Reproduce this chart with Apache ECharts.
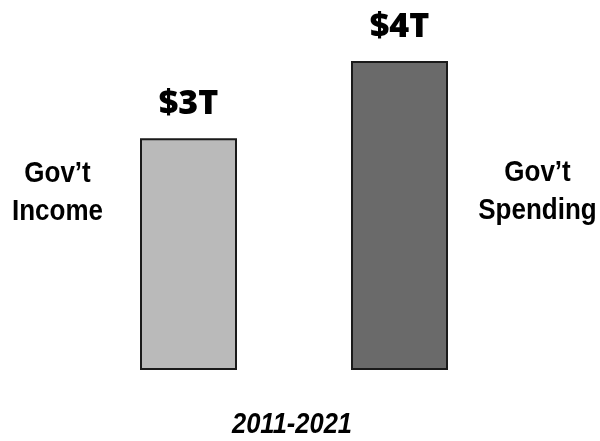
<!DOCTYPE html>
<html>
<head>
<meta charset="utf-8">
<script src="https://cdn.jsdelivr.net/npm/echarts@6/dist/echarts.min.js"></script>
<style>html,body{margin:0;padding:0;background:#fff;}#c{width:600px;height:441px;}</style>
</head>
<body>
<div id="c"></div>
<script>
var categories = ['Gov’t Income', 'Gov’t Spending'];
var values = [3, 4];
var valueLabels = ['$3T', '$4T'];
var barColors = ['#bababa', '#6a6a6a'];
var sideLabels = ['Gov’t\nIncome', 'Gov’t\nSpending'];
var periodLabel = '2011-2021';

var chart = echarts.init(document.getElementById('c'), null, {renderer: 'canvas'});
chart.setOption({
  animation: false,
  backgroundColor: '#ffffff',
  grid: {left: 83, right: 95, top: 61, bottom: 71},
  xAxis: {
    type: 'category',
    data: categories,
    axisLine: {show: false}, axisTick: {show: false}, axisLabel: {show: false}
  },
  yAxis: {
    type: 'value', min: 0, max: 4,
    axisLine: {show: false}, axisTick: {show: false}, axisLabel: {show: false},
    splitLine: {show: false}
  },
  series: [{
    type: 'bar',
    barWidth: 97,
    data: values.map(function (v, i) {
      return {value: v, itemStyle: {color: barColors[i]}};
    }),
    itemStyle: {borderColor: '#1a1a1a', borderWidth: 2},
    label: {
      show: true, position: 'top', distance: 17,
      formatter: function (p) { return valueLabels[p.dataIndex]; },
      fontFamily: 'Open Sans', fontWeight: 800, fontSize: 34, color: '#000'
    }
  }],
  graphic: [
    {type: 'text', x: 57.5, y: 193, scaleY: 1.1,
     style: {text: sideLabels[0], x: 0, y: 0, align: 'center', verticalAlign: 'middle',
             font: 'bold 26px "Liberation Sans", Arial, sans-serif', lineHeight: 35, fill: '#000'}},
    {type: 'text', x: 537.5, y: 192, scaleY: 1.1,
     style: {text: sideLabels[1], x: 0, y: 0, align: 'center', verticalAlign: 'middle',
             font: 'bold 26px "Liberation Sans", Arial, sans-serif', lineHeight: 35, fill: '#000'}},
    {type: 'text', x: 292, y: 425, scaleY: 1.12,
     style: {text: periodLabel, x: 0, y: 0, align: 'center', verticalAlign: 'middle',
             font: 'italic bold 25.5px "Liberation Sans", Arial, sans-serif', fill: '#000'}}
  ]
});
</script>
</body>
</html>
